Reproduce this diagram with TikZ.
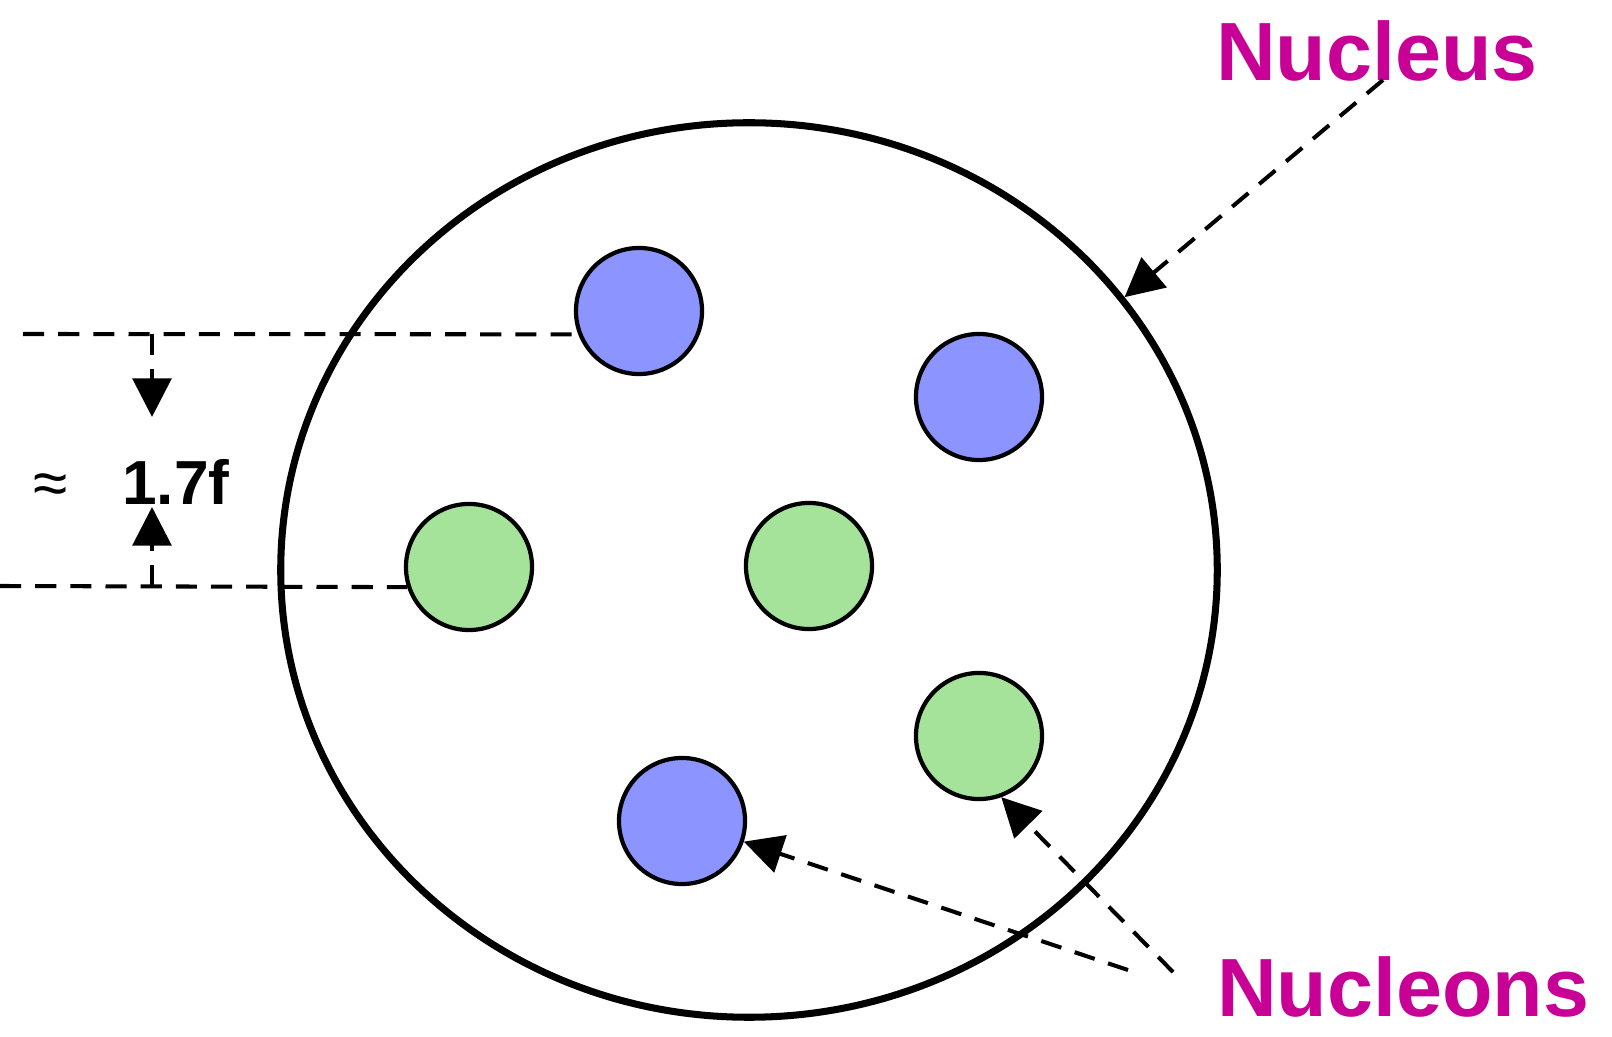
\documentclass[tikz,border=0pt]{standalone}
\usepackage{fontspec}
\setmainfont{Liberation Sans}
\usetikzlibrary{arrows.meta}
\usetikzlibrary{shapes}

\definecolor{tagMagenta}{RGB}{200,0,150}
\definecolor{protonBlue}{RGB}{140,148,255}
\definecolor{neutronGreen}{RGB}{166,227,154}

\begin{document}
\begin{tikzpicture}[x = 0.01cm, y = -0.01cm]
	\tikzstyle{nucleusStyle} = [shape = ellipse, minimum width = 9.36cm, minimum height = 8.94cm, inner sep = 0pt, line width = 2pt, draw]
	\tikzstyle{protonStyle} = [shape = circle, minimum size = 1.26cm, inner sep = 0pt, line width = 1.2pt, draw, fill = protonBlue]
	\tikzstyle{neutronStyle} = [shape = circle, minimum size = 1.26cm, inner sep = 0pt, line width = 1.2pt, draw, fill = neutronGreen]
	\tikzstyle{guideStyle} = [line width = 1.15pt, dash pattern = on 6pt off 4pt]
	\tikzstyle{pointerStyle} = [guideStyle, -{Triangle[length = 11pt, width = 11pt]}]
	\tikzstyle{tagStyle} = [text = tagMagenta, font = \fontsize{23.5}{28}\selectfont\bfseries, inner sep = 0pt, anchor = base]
	\tikzstyle{dimStyle} = [font = \fontsize{17.7}{21}\selectfont, inner sep = 0pt, anchor = base]
	\useasboundingbox (0, 0) rectangle (1612, 1037);
	\node[nucleusStyle] (nucleus) at (749, 570) {};
	\node[protonStyle] (p1) at (639, 311) {};
	\node[protonStyle] (p2) at (979, 397) {};
	\node[protonStyle] (p3) at (682, 821) {};
	\node[neutronStyle] (n1) at (469, 567) {};
	\node[neutronStyle] (n2) at (809, 566) {};
	\node[neutronStyle] (n3) at (979, 736) {};
	\node[tagStyle] (lblNucleus) at (1377, 81) {Nucleus};
	\node[tagStyle] (lblNucleons) at (1403, 1016) {Nucleons};
	\node[dimStyle] (approx) at (51, 505) {≈};
	\node[dimStyle, font = \fontsize{17.7}{21}\selectfont\bfseries] (spacing) at (176, 505) {1.7f};
	\coordinate (topStart) at (23, 334);
	\coordinate (botStart) at (0, 586);
	\coordinate (topCorner) at (152, 334);
	\coordinate (botCorner) at (152, 586);
	\coordinate (topTip) at (152, 417);
	\coordinate (botTip) at (152, 507);
	\coordinate (nucleusTail) at (1383, 80);
	\coordinate (tailA) at (1128, 970);
	\coordinate (tailB) at (1173, 972);
	\draw[guideStyle] (topStart) -- (p1.201);
	\draw[guideStyle] (botStart) -- (n1.198);
	\draw[pointerStyle] (topCorner) -- (topTip);
	\draw[pointerStyle] (botCorner) -- (botTip);
	\draw[pointerStyle] (nucleusTail) -- (nucleus.36);
	\draw[pointerStyle] (tailA) -- (p3);
	\draw[pointerStyle] (tailB) -- (n3.-70);
\end{tikzpicture}
\end{document}
